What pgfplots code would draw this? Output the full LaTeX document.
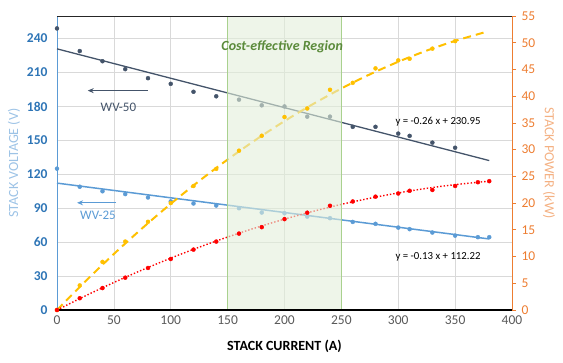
\documentclass[border=0pt]{standalone}
\usepackage{fontspec}
\setmainfont{Carlito}
\usepackage{pgfplots}
\pgfplotsset{compat=1.18}
\usetikzlibrary{arrows.meta}

\definecolor{navy}{HTML}{44546A}
\definecolor{lblue}{HTML}{5B9BD5}
\definecolor{dblue}{HTML}{2E75B6}
\definecolor{gold}{HTML}{FFC000}
\definecolor{orng}{HTML}{ED7D31}
\definecolor{porng}{HTML}{F4B183}
\definecolor{pblue}{HTML}{9DC3E6}
\definecolor{gridc}{HTML}{D9D9D9}
\definecolor{gfill}{HTML}{E2EFDA}
\definecolor{gedge}{HTML}{A9D18E}
\definecolor{gtext}{HTML}{5A8A3A}
\definecolor{gray59}{HTML}{595959}

\begin{document}
\begin{tikzpicture}
\begin{axis}[
 scale only axis, width=455pt, height=294pt,
 xmin=0, xmax=400, ymin=0, ymax=260,
 axis x line*=bottom, axis y line*=left,
 xtick={0,50,...,400}, ytick={0,30,...,240},
 grid=major, major grid style={gridc, line width=0.7pt},
 major tick length=0pt,
 x axis line style={black, line width=1.3pt},
 y axis line style={lblue, line width=0.8pt},
 /pgf/number format/assume math mode=true,
 xticklabel style={font=\fontsize{13.5}{15}\selectfont, text=gray59, yshift=-2pt},
 yticklabel style={font=\fontsize{13.5}{15}\selectfont\bfseries, text=dblue, xshift=-6pt},
 clip=false,
]
\addplot[navy, line width=1.3pt] coordinates {(0,230.95) (380,132.15)};
\addplot[only marks, mark=*, mark size=2pt, navy] coordinates {
 (0,249)(20,229)(40,220)(60,213)(80,205)(100,200)(120,193)(140,189)(160,186)(180,181)
 (200,180)(220,171)(240,171)(260,162)(280,162)(300,156)(310,154)(330,148)(350,143.5)};
\addplot[lblue, line width=1.5pt] coordinates {(0,112.22) (380,62.82)};
\addplot[only marks, mark=*, mark size=2pt, lblue] coordinates {
 (0,125)(20,109)(40,105)(60,102.5)(80,99.5)(100,96)(120,94.2)(140,92.4)(160,90)(180,86.2)
 (200,85.6)(220,82.6)(240,81.2)(260,77.9)(280,76.2)(300,72.9)(310,71.5)(330,68.5)(350,65.8)(370,64.4)(380,64.4)};
\draw[navy, line width=1.2pt, -{Stealth[length=6pt,width=5pt]}] (axis cs:80,194) -- (axis cs:27,194);
\node[navy, font=\fontsize{13}{15}\selectfont] at (axis cs:54,179.6) {WV-50};
\draw[lblue, line width=1.2pt, -{Stealth[length=6pt,width=5pt]}] (axis cs:52,94.8) -- (axis cs:17.6,94.8);
\node[lblue, font=\fontsize{13}{15}\selectfont] at (axis cs:36,84) {WV-25};
\node[black, font=\fontsize{10.8}{12}\selectfont] at (axis cs:335,166.5) {y = -0.26 x + 230.95};
\node[black, font=\fontsize{10.8}{12}\selectfont] at (axis cs:335,47) {y = -0.13 x + 112.22};
\node[pblue, rotate=90, font=\fontsize{14}{16}\selectfont] at ([xshift=-43pt]rel axis cs:0,0.5) {STACK VOLTAGE (V)};
\node[black, font=\fontsize{14}{16}\selectfont\bfseries] at ([yshift=-36pt]rel axis cs:0.5,0) {STACK CURRENT (A)};
\end{axis}
\begin{axis}[
 scale only axis, width=455pt, height=294pt,
 xmin=0, xmax=400, ymin=0, ymax=55,
 axis x line=none, axis y line*=right,
 ytick={0,5,...,55},
 y axis line style={orng, line width=0.8pt},
 tick align=outside, major tick length=4pt,
 ytick style={orng, line width=0.8pt},
 /pgf/number format/assume math mode=true,
 yticklabel style={font=\fontsize{13.5}{15}\selectfont, text=orng, xshift=2pt},
 clip=false,
]
\addplot[gold, line width=2pt, dash pattern=on 8pt off 5pt, smooth] coordinates {
 (0,0)(25,5.38)(50,10.48)(75,15.31)(100,19.86)(125,24.14)(150,28.15)(175,31.88)(200,35.34)
 (225,38.52)(250,41.44)(275,44.08)(300,46.44)(325,48.53)(350,50.35)(375,51.89)};
\addplot[only marks, mark=*, mark size=2pt, gold] coordinates {
 (0,0)(20,4.6)(40,9.0)(60,12.8)(80,16.5)(100,20.0)(120,23.2)(140,26.4)(160,29.8)(180,32.6)
 (200,36.1)(220,37.7)(240,41.2)(260,42.5)(280,45.2)(300,46.7)(310,47.0)(330,48.9)(350,50.3)};
\addplot[red, line width=1.4pt, dash pattern=on 1.4pt off 2pt, smooth] coordinates {
 (0,0)(25,2.65)(50,5.15)(75,7.50)(100,9.70)(125,11.75)(150,13.65)(175,15.40)(200,17.00)
 (225,18.45)(250,19.76)(275,20.90)(300,21.90)(325,22.76)(350,23.45)(380,24.10)};
\addplot[only marks, mark=*, mark size=2pt, red] coordinates {
 (0,0)(20,2.2)(40,4.1)(60,6.05)(80,7.86)(100,9.54)(120,11.3)(140,12.8)(160,14.3)(180,15.5)
 (200,17.0)(220,18.2)(240,19.5)(260,20.3)(280,21.2)(300,21.8)(310,22.3)(330,22.45)(350,23.2)(370,23.9)(380,24.1)};
\fill[gfill, fill opacity=0.6] (axis cs:150,0) rectangle (axis cs:250,55);
\draw[gedge, line width=0.9pt] (axis cs:150,0) -- (axis cs:150,55);
\draw[gedge, line width=0.9pt] (axis cs:250,0) -- (axis cs:250,55);
\draw[black!85, line width=0.9pt] (rel axis cs:0,1) -- (rel axis cs:1,1);
\draw[black, line width=1.3pt] (rel axis cs:0,0) -- (rel axis cs:1,0);
\node[gtext, font=\fontsize{14}{16}\selectfont\bfseries\itshape] at (axis cs:198,49.2) {Cost-effective Region};
\node[porng, rotate=-90, font=\fontsize{14}{16}\selectfont] at ([xshift=37pt]rel axis cs:1,0.5) {STACK POWER (kW)};
\coordinate (O) at (rel axis cs:0,0);
\end{axis}
\pgfresetboundingbox
\path (O) ++(-57pt,-52pt) rectangle ++(563pt,362pt);
\end{tikzpicture}
\end{document}
